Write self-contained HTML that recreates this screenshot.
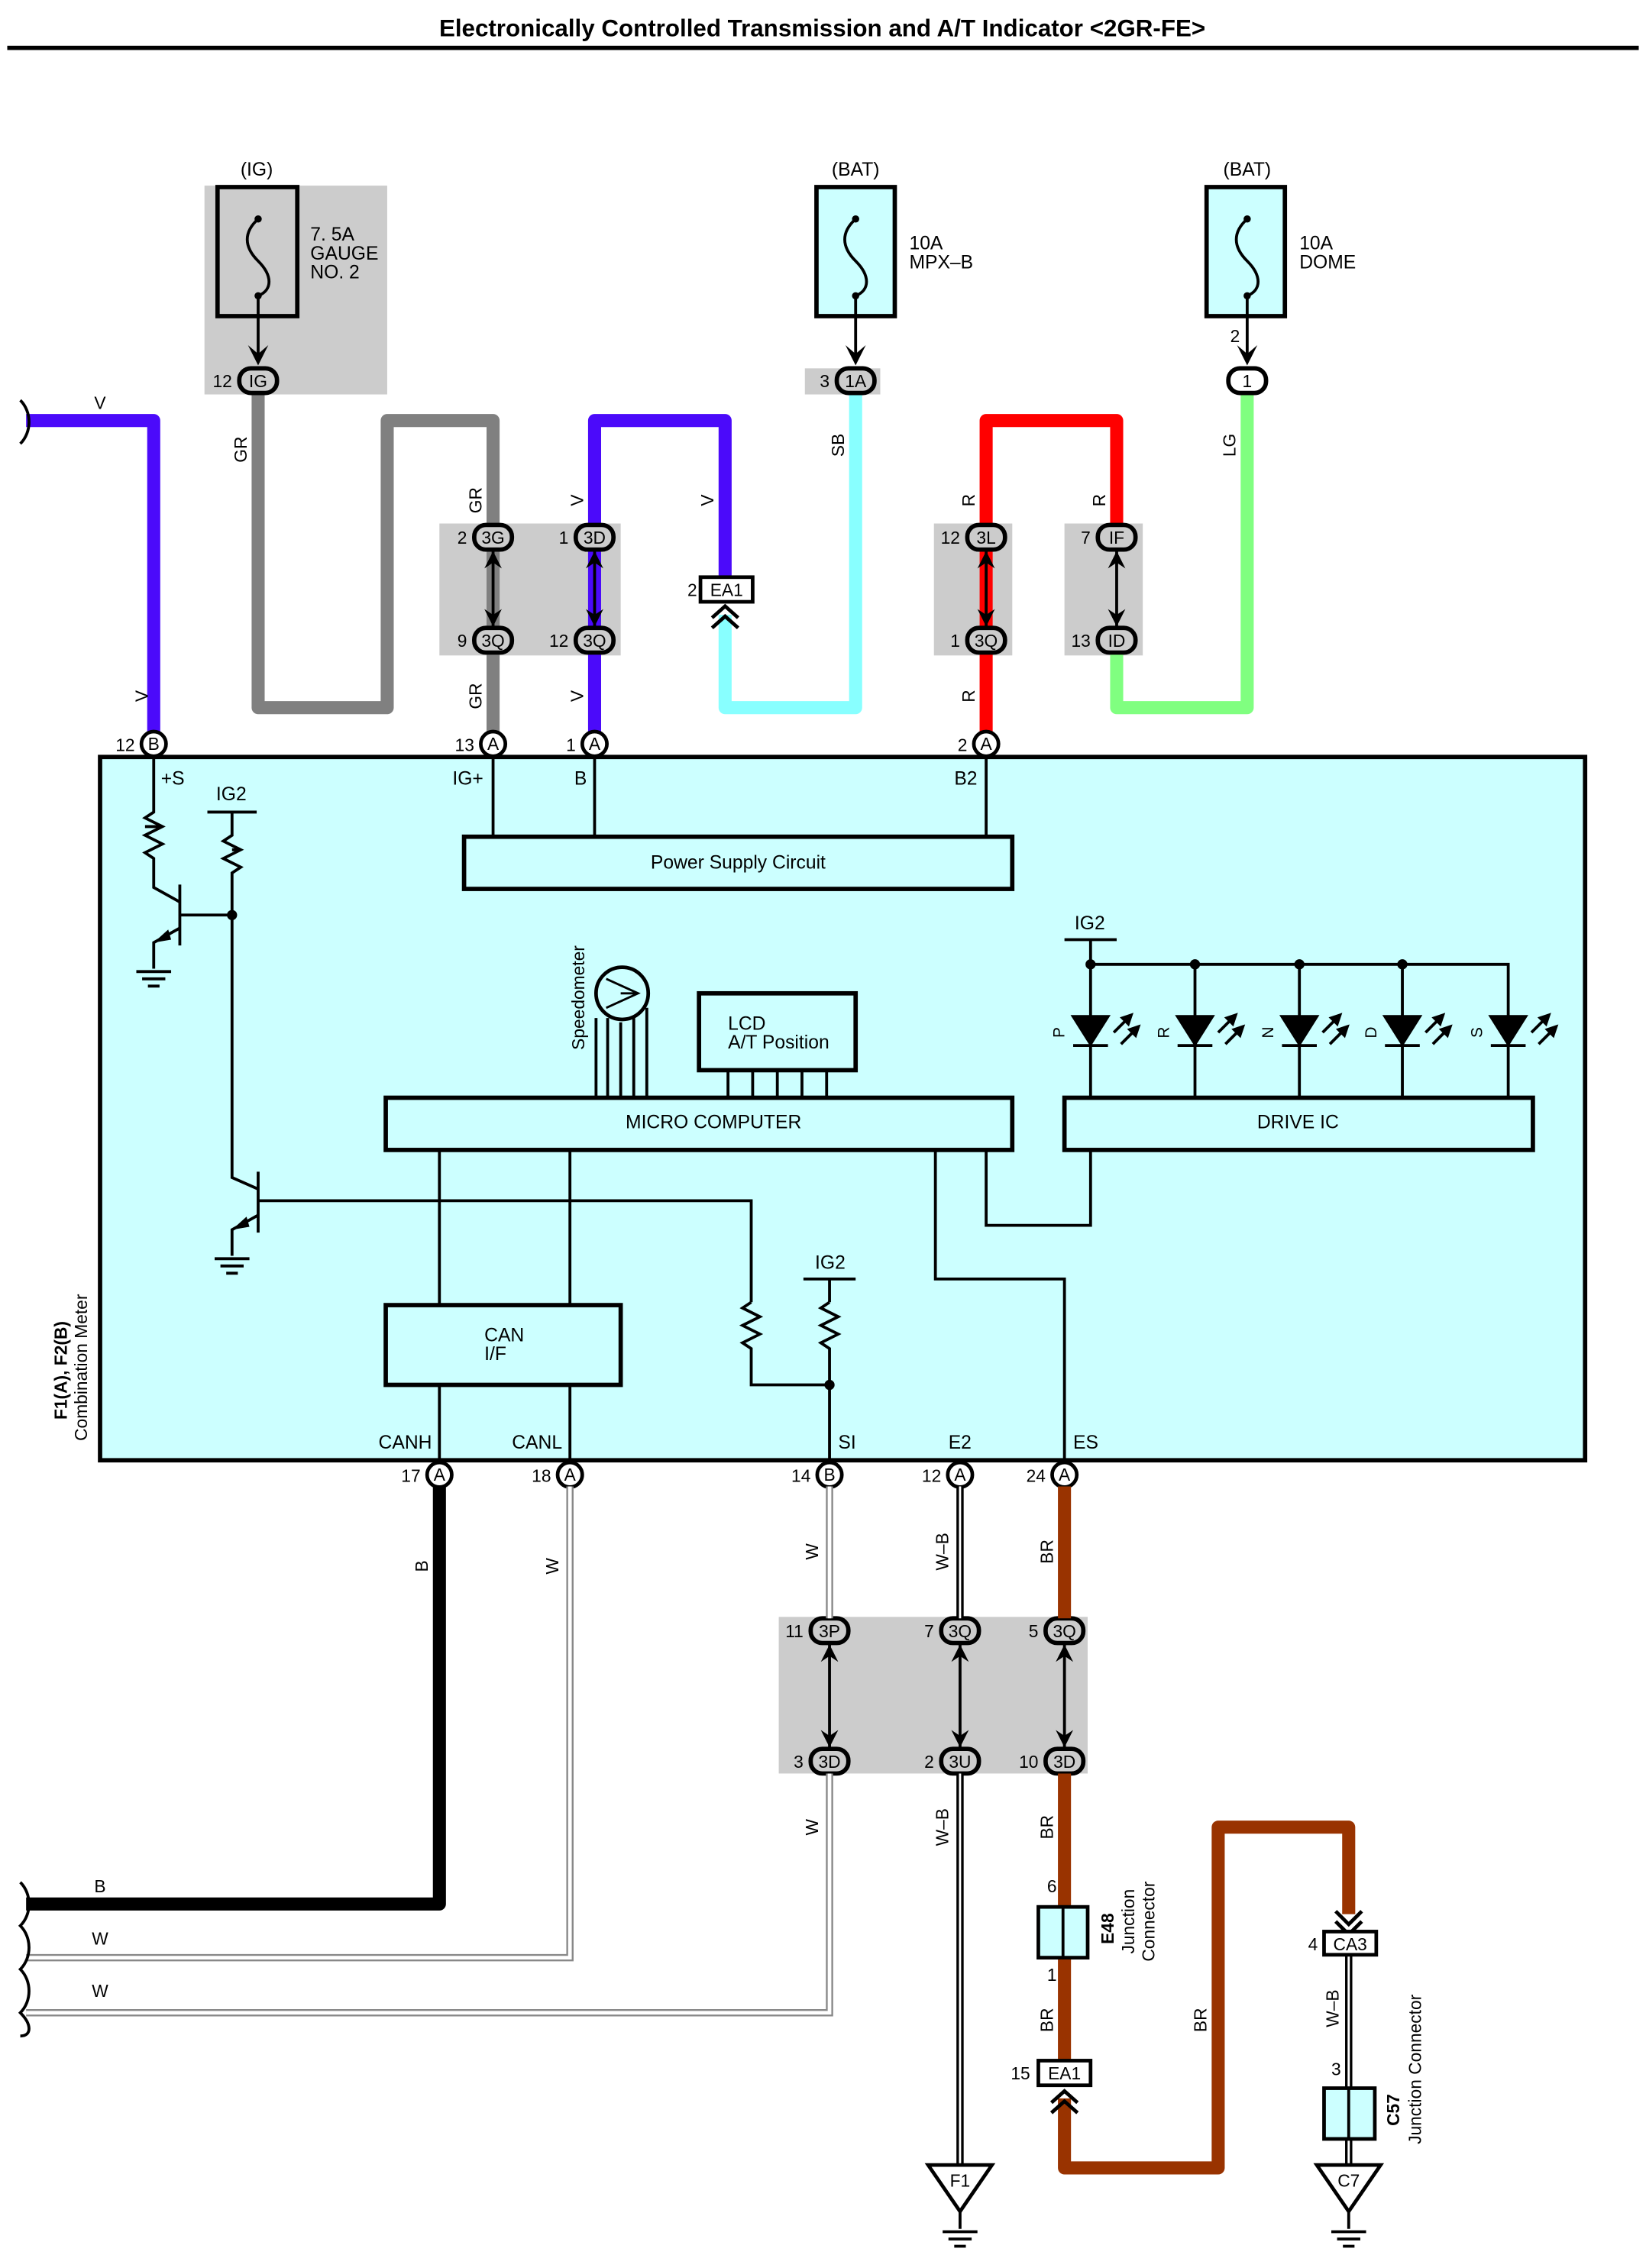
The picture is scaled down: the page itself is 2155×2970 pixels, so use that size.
<!DOCTYPE html>
<html><head><meta charset="utf-8"><style>html,body{margin:0;padding:0;background:#fff}svg{display:block}text{font-family:"Liberation Sans",sans-serif}</style></head><body>
<svg width="2155" height="2970" viewBox="0 0 1135 1564" preserveAspectRatio="none" xmlns="http://www.w3.org/2000/svg">
<rect width="1135" height="1564" fill="#fff"/>
<text x="567" y="25" font-size="16.5" font-weight="bold" text-anchor="middle">Electronically Controlled Transmission and A/T Indicator &lt;2GR-FE&gt;</text>
<line x1="5" y1="33" x2="1130" y2="33" stroke="#000" stroke-width="3"/>

<!-- gray blocks -->
<rect x="141" y="128" width="126" height="144" fill="#ccc"/>
<rect x="555" y="254" width="52" height="18" fill="#ccc"/>
<rect x="303" y="361" width="125" height="91" fill="#ccc"/>
<rect x="644" y="361" width="54" height="91" fill="#ccc"/>
<rect x="734" y="361" width="54" height="91" fill="#ccc"/>
<rect x="537" y="1115" width="213" height="108" fill="#ccc"/>

<!-- fuses -->
<g stroke="#000" stroke-width="3">
<rect x="150" y="129" width="55" height="89" fill="#ccc"/>
<rect x="563" y="129" width="54" height="89" fill="#ccffff"/>
<rect x="832" y="129" width="54" height="89" fill="#ccffff"/>
</g>
<g fill="none" stroke="#000" stroke-width="2">
<path d="M178 151 C168 160,168 170,178 180 C188 190,188 200,178 204"/>
<path d="M590 151 C580 160,580 170,590 180 C600 190,600 200,590 204"/>
<path d="M860 151 C850 160,850 170,860 180 C870 190,870 200,860 204"/>
<line x1="178" y1="204" x2="178" y2="248"/><line x1="590" y1="204" x2="590" y2="248"/><line x1="860" y1="204" x2="860" y2="248"/>
</g>
<g fill="#000"><circle cx="178" cy="151" r="2.5"/><circle cx="178" cy="204" r="2.5"/><circle cx="590" cy="151" r="2.5"/><circle cx="590" cy="204" r="2.5"/><circle cx="860" cy="151" r="2.5"/><circle cx="860" cy="204" r="2.5"/>
<path d="M171 238 L178 252 L185 238 L178 244Z"/><path d="M583 238 L590 252 L597 238 L590 244Z"/><path d="M853 238 L860 252 L867 238 L860 244Z"/></g>
<g font-size="13"><text x="177" y="121" text-anchor="middle">(IG)</text><text x="590" y="121" text-anchor="middle">(BAT)</text><text x="860" y="121" text-anchor="middle">(BAT)</text>
<text x="214" y="166">7. 5A</text><text x="214" y="179">GAUGE</text><text x="214" y="192">NO. 2</text>
<text x="627" y="172">10A</text><text x="627" y="185">MPX–B</text><text x="896" y="172">10A</text><text x="896" y="185">DOME</text></g>

<!-- main box -->
<rect x="69" y="522" width="1024" height="485" fill="#ccffff" stroke="#000" stroke-width="3"/>

<!-- wires top -->
<g fill="none" stroke-width="9" stroke-linejoin="round">
<path d="M18 290 H106 V508" stroke="#4b0afa"/>
<path d="M178 272 V488 H267 V290 H340 V508" stroke="#808080"/>
<path d="M410 508 V290 H500 V398" stroke="#4b0afa"/>
<path d="M500 424 V488 H590 V272" stroke="#88ffff"/>
<path d="M680 508 V290 H770 V370" stroke="#ff0000"/>
<path d="M770 441 V488 H860 V272" stroke="#80ff80"/>
</g>
<path d="M14 276 C22 284,22 298,14 306" fill="none" stroke="#000" stroke-width="2"/>
<g stroke="#000" stroke-width="2"><line x1="340" y1="380" x2="340" y2="432"/><line x1="410" y1="380" x2="410" y2="432"/><line x1="680" y1="380" x2="680" y2="432"/><line x1="770" y1="380" x2="770" y2="432"/>
<line x1="572" y1="1134" x2="572" y2="1205"/><line x1="662" y1="1134" x2="662" y2="1205"/><line x1="734" y1="1134" x2="734" y2="1205"/></g>
<g fill="#000">
<path d="M334 392 L340 380 L346 392 L340 388Z M334 420 L340 432 L346 420 L340 424Z"/>
<path d="M404 392 L410 380 L416 392 L410 388Z M404 420 L410 432 L416 420 L410 424Z"/>
<path d="M674 392 L680 380 L686 392 L680 388Z M674 420 L680 432 L686 420 L680 424Z"/>
<path d="M764 392 L770 380 L776 392 L770 388Z M764 420 L770 432 L776 420 L770 424Z"/>
<path d="M566 1146 L572 1134 L578 1146 L572 1142Z M566 1193 L572 1205 L578 1193 L572 1197Z"/>
<path d="M656 1146 L662 1134 L668 1146 L662 1142Z M656 1193 L662 1205 L668 1193 L662 1197Z"/>
<path d="M728 1146 L734 1134 L740 1146 L734 1142Z M728 1193 L734 1205 L740 1193 L734 1197Z"/>
</g>
<rect x="483" y="398" width="36" height="17" fill="#fff" stroke="#000" stroke-width="2.5"/>
<text x="501" y="411" font-size="12" text-anchor="middle">EA1</text><text x="474" y="411" font-size="12">2</text>
<path d="M491 426 L500 418 L509 426 M491 433 L500 425 L509 433" fill="none" stroke="#000" stroke-width="2.5"/>

<!-- connector ovals -->
<g stroke="#000" stroke-width="3" fill="#ccc">
<rect x="165" y="254" width="26" height="17" rx="8"/>
<rect x="577" y="254" width="26" height="17" rx="8"/>
<rect x="847" y="254" width="26" height="17" rx="8" fill="#fff"/>
<rect x="327" y="362" width="26" height="17" rx="8"/><rect x="327" y="433" width="26" height="17" rx="8"/>
<rect x="397" y="362" width="26" height="17" rx="8"/><rect x="397" y="433" width="26" height="17" rx="8"/>
<rect x="667" y="362" width="26" height="17" rx="8"/><rect x="667" y="433" width="26" height="17" rx="8"/>
<rect x="757" y="362" width="26" height="17" rx="8"/><rect x="757" y="433" width="26" height="17" rx="8"/>
<rect x="559" y="1116" width="26" height="17" rx="8"/><rect x="559" y="1206" width="26" height="17" rx="8"/>
<rect x="649" y="1116" width="26" height="17" rx="8"/><rect x="649" y="1206" width="26" height="17" rx="8"/>
<rect x="721" y="1116" width="26" height="17" rx="8"/><rect x="721" y="1206" width="26" height="17" rx="8"/>
</g>
<g font-size="12" text-anchor="middle">
<text x="178" y="267">IG</text><text x="590" y="267">1A</text><text x="860" y="267">1</text>
<text x="340" y="375">3G</text><text x="340" y="446">3Q</text><text x="410" y="375">3D</text><text x="410" y="446">3Q</text>
<text x="680" y="375">3L</text><text x="680" y="446">3Q</text><text x="770" y="375">IF</text><text x="770" y="446">ID</text>
<text x="572" y="1129">3P</text><text x="572" y="1219">3D</text><text x="662" y="1129">3Q</text><text x="662" y="1219">3U</text><text x="734" y="1129">3Q</text><text x="734" y="1219">3D</text>
</g>
<g font-size="12" text-anchor="end">
<text x="160" y="267">12</text><text x="572" y="267">3</text><text x="855" y="236">2</text>
<text x="322" y="375">2</text><text x="322" y="446">9</text><text x="392" y="375">1</text><text x="392" y="446">12</text>
<text x="662" y="375">12</text><text x="662" y="446">1</text><text x="752" y="375">7</text><text x="752" y="446">13</text>
<text x="554" y="1129">11</text><text x="554" y="1219">3</text><text x="644" y="1129">7</text><text x="644" y="1219">2</text><text x="716" y="1129">5</text><text x="716" y="1219">10</text>
</g>

<!-- pins -->
<g stroke="#000" stroke-width="2.5" fill="#fff">
<circle cx="106" cy="513" r="8.5"/><circle cx="340" cy="513" r="8.5"/><circle cx="410" cy="513" r="8.5"/><circle cx="680" cy="513" r="8.5"/>
<circle cx="303" cy="1017" r="8.5"/><circle cx="393" cy="1017" r="8.5"/><circle cx="572" cy="1017" r="8.5"/><circle cx="662" cy="1017" r="8.5"/><circle cx="734" cy="1017" r="8.5"/>
</g>
<g font-size="12" text-anchor="middle">
<text x="106" y="517">B</text><text x="340" y="517">A</text><text x="410" y="517">A</text><text x="680" y="517">A</text>
<text x="303" y="1021">A</text><text x="393" y="1021">A</text><text x="572" y="1021">B</text><text x="662" y="1021">A</text><text x="734" y="1021">A</text>
</g>
<g font-size="12" text-anchor="end">
<text x="93" y="518">12</text><text x="327" y="518">13</text><text x="397" y="518">1</text><text x="667" y="518">2</text>
<text x="290" y="1022">17</text><text x="380" y="1022">18</text><text x="559" y="1022">14</text><text x="649" y="1022">12</text><text x="721" y="1022">24</text>
</g>

<g font-size="12">
<text x="69" y="282" text-anchor="middle">V</text>
<text transform="translate(170,310) rotate(-90)" text-anchor="middle">GR</text>
<text transform="translate(332,345) rotate(-90)" text-anchor="middle">GR</text>
<text transform="translate(332,480) rotate(-90)" text-anchor="middle">GR</text>
<text transform="translate(102,480) rotate(-90)" text-anchor="middle">V</text>
<text transform="translate(402,345) rotate(-90)" text-anchor="middle">V</text>
<text transform="translate(402,480) rotate(-90)" text-anchor="middle">V</text>
<text transform="translate(492,345) rotate(-90)" text-anchor="middle">V</text>
<text transform="translate(582,307) rotate(-90)" text-anchor="middle">SB</text>
<text transform="translate(672,345) rotate(-90)" text-anchor="middle">R</text>
<text transform="translate(762,345) rotate(-90)" text-anchor="middle">R</text>
<text transform="translate(672,480) rotate(-90)" text-anchor="middle">R</text>
<text transform="translate(852,307) rotate(-90)" text-anchor="middle">LG</text>
<text transform="translate(295,1080) rotate(-90)" text-anchor="middle">B</text>
<text transform="translate(385,1080) rotate(-90)" text-anchor="middle">W</text>
<text transform="translate(564,1070) rotate(-90)" text-anchor="middle">W</text>
<text transform="translate(654,1070) rotate(-90)" text-anchor="middle">W–B</text>
<text transform="translate(726,1070) rotate(-90)" text-anchor="middle">BR</text>
<text transform="translate(564,1260) rotate(-90)" text-anchor="middle">W</text>
<text transform="translate(654,1260) rotate(-90)" text-anchor="middle">W–B</text>
<text transform="translate(726,1260) rotate(-90)" text-anchor="middle">BR</text>
<text transform="translate(726,1393) rotate(-90)" text-anchor="middle">BR</text>
<text transform="translate(832,1393) rotate(-90)" text-anchor="middle">BR</text>
<text transform="translate(923,1385) rotate(-90)" text-anchor="middle">W–B</text>
<text x="69" y="1305" text-anchor="middle">B</text><text x="69" y="1341" text-anchor="middle">W</text><text x="69" y="1377" text-anchor="middle">W</text>
</g>

<!-- internal wiring -->
<g fill="none" stroke="#000" stroke-width="2">
<path d="M340 522 V577 M410 522 V577 M680 522 V577"/>
<path d="M303 793 V900 M303 955 V1007 M393 793 V900 M393 955 V1007"/>
<path d="M680 793 V845 H752 V793"/><path d="M645 793 V882 H734 V1007"/>
<path d="M178 828 H518 V898 M518 940 V955 H572 V1007"/><path d="M572 882 V898 M572 940 V955"/>
<path d="M554 882 H590"/>
<path d="M106 522 V560 l-6 4 l12 6 l-6 0 l-6 0 M106 560 l-6 4 l12 6 l-12 6 l12 6 l-12 6 l6 4 V612 L124 622"/>
<path d="M124 610 V652 M124 631 H160"/>
<path d="M124 640 L106 650 V668 M94 670 H118 M98 675 H114 M102 680 H110"/>
<path d="M160 560 V576 l-6 4 l12 6 l-6 0 M160 576 l-6 4 l12 6 l-12 6 l12 6 l-6 4 V812 L178 820 M143 560 H177"/>
<path d="M178 808 V850"/>
<path d="M178 838 L160 848 V866 M148 868 H172 M152 873 H168 M156 878 H164"/>
<path d="M518 898 l-6 4 l12 6 l-12 6 l12 6 l-12 6 l6 4 V940"/>
<path d="M572 898 l-6 4 l12 6 l-12 6 l12 6 l-12 6 l6 4 V940"/>
<path d="M734 648 H770 M752 648 V757 M752 665 H1040 V757 M824 665 V757 M896 665 V757 M967 665 V757"/>
<path d="M411 702 V757 M419 702 V757 M428 705 V757 M437 702 V757 M446 695 V757"/>
<path d="M502 738 V757 M519 738 V757 M536 738 V757 M553 738 V757 M570 738 V757"/>
</g>
<g fill="#000"><circle cx="160" cy="631" r="3.5"/><circle cx="752" cy="665" r="3.5"/><circle cx="824" cy="665" r="3.5"/><circle cx="896" cy="665" r="3.5"/><circle cx="967" cy="665" r="3.5"/><circle cx="572" cy="955" r="3.5"/>
<path d="M106 650 L116 641 L118 648Z"/><path d="M160 848 L170 839 L172 846Z"/></g>
<circle cx="429" cy="685" r="18" fill="#ccffff" stroke="#000" stroke-width="2.5"/>
<path d="M418 675 L440 685 L418 695 M428 685 H440" fill="none" stroke="#000" stroke-width="1.5"/>
<text transform="translate(403,688) rotate(-90)" font-size="12" text-anchor="middle">Speedometer</text>
<g stroke="#000" stroke-width="3" fill="#ccffff">
<rect x="320" y="577" width="378" height="36"/><rect x="266" y="757" width="432" height="36"/><rect x="734" y="757" width="323" height="36"/>
<rect x="266" y="900" width="162" height="55"/><rect x="482" y="685" width="108" height="53"/>
</g>
<g font-size="13">
<text x="509" y="599" text-anchor="middle">Power Supply Circuit</text>
<text x="492" y="778" text-anchor="middle">MICRO COMPUTER</text>
<text x="895" y="778" text-anchor="middle">DRIVE IC</text>
<text x="334" y="925">CAN</text><text x="334" y="938">I/F</text>
<text x="502" y="710">LCD</text><text x="502" y="723">A/T Position</text>
<text x="111" y="541">+S</text><text x="149" y="552">IG2</text><text x="741" y="641">IG2</text><text x="562" y="875">IG2</text>
<text x="312" y="541">IG+</text><text x="396" y="541">B</text><text x="658" y="541">B2</text>
<text x="261" y="999">CANH</text><text x="353" y="999">CANL</text><text x="578" y="999">SI</text><text x="654" y="999">E2</text><text x="740" y="999">ES</text>
</g>
<text transform="translate(46,945) rotate(-90)" font-size="12" font-weight="bold" text-anchor="middle">F1(A), F2(B)</text>
<text transform="translate(60,943) rotate(-90)" font-size="12" text-anchor="middle">Combination Meter</text>
<g fill="#000" stroke="#000" stroke-width="2">
<g id="led"><path d="M740 701 H764 L752 720Z"/><line x1="740" y1="721" x2="764" y2="721"/>
<path d="M768 712 L778 702 M773 720 L783 710" fill="none"/><path d="M780 700 L774 702 L778 706Z M785 708 L779 710 L783 714Z"/></g>
<use href="#led" x="72"/><use href="#led" x="144"/><use href="#led" x="215"/><use href="#led" x="288"/>
</g>
<g font-size="11"><text transform="translate(734,712) rotate(-90)" text-anchor="middle">P</text><text transform="translate(806,712) rotate(-90)" text-anchor="middle">R</text><text transform="translate(878,712) rotate(-90)" text-anchor="middle">N</text><text transform="translate(949,712) rotate(-90)" text-anchor="middle">D</text><text transform="translate(1022,712) rotate(-90)" text-anchor="middle">S</text></g>

<!-- bottom wires -->
<path d="M303 1025 V1313 H18" fill="none" stroke="#000" stroke-width="9" stroke-linejoin="round"/>
<g fill="none" stroke="#888" stroke-width="5"><path d="M393 1025 V1350 H18"/><path d="M572 1025 V1116 M572 1223 V1388 H18"/></g>
<g fill="none" stroke="#fff" stroke-width="2.5"><path d="M393 1025 V1350 H18"/><path d="M572 1025 V1116 M572 1223 V1388 H18"/></g>
<g fill="none" stroke="#000" stroke-width="5"><path d="M662 1025 V1116 M662 1223 V1495"/><path d="M930 1348 V1440 M930 1475 V1492"/></g>
<g fill="none" stroke="#fff" stroke-width="1.5"><path d="M662 1025 V1116 M662 1223 V1495"/><path d="M930 1348 V1440 M930 1475 V1492"/></g>
<g fill="none" stroke="#993300" stroke-width="9" stroke-linejoin="round">
<path d="M734 1025 V1116 M734 1223 V1315 M734 1350 V1421"/>
<path d="M734 1447 V1495 H840 V1260 H930 V1320"/>
</g>
<g fill="none" stroke="#000" stroke-width="2"><path d="M14 1298 C22 1306,22 1320,14 1328 C22 1336,22 1350,14 1358 C22 1366,22 1380,14 1388 C22 1396,22 1404,14 1404"/></g>
<rect x="716" y="1315" width="34" height="35" fill="#ccffff" stroke="#000" stroke-width="2.5"/><line x1="733" y1="1315" x2="733" y2="1350" stroke="#000" stroke-width="2"/>
<text x="722" y="1305" font-size="12">6</text><text x="722" y="1366" font-size="12">1</text>
<text transform="translate(768,1330) rotate(-90)" font-size="12" font-weight="bold" text-anchor="middle">E48</text>
<text transform="translate(782,1325) rotate(-90)" font-size="12" text-anchor="middle">Junction</text>
<text transform="translate(796,1325) rotate(-90)" font-size="12" text-anchor="middle">Connector</text>
<rect x="716" y="1421" width="36" height="17" fill="#fff" stroke="#000" stroke-width="2.5"/>
<text x="734" y="1434" font-size="12" text-anchor="middle">EA1</text><text x="697" y="1434" font-size="12">15</text>
<path d="M725 1450 L734 1442 L743 1450 M725 1457 L734 1449 L743 1457" fill="none" stroke="#000" stroke-width="2.5"/>
<path d="M921 1318 L930 1327 L939 1318 M921 1325 L930 1334 L939 1325" fill="none" stroke="#000" stroke-width="2.5"/>
<rect x="913" y="1332" width="36" height="16" fill="#fff" stroke="#000" stroke-width="2.5"/>
<text x="931" y="1345" font-size="12" text-anchor="middle">CA3</text><text x="902" y="1345" font-size="12">4</text><text x="918" y="1431" font-size="12">3</text>
<rect x="913" y="1440" width="35" height="35" fill="#ccffff" stroke="#000" stroke-width="2.5"/><line x1="930" y1="1440" x2="930" y2="1475" stroke="#000" stroke-width="2"/>
<text transform="translate(965,1455) rotate(-90)" font-size="12" font-weight="bold" text-anchor="middle">C57</text>
<text transform="translate(980,1427) rotate(-90)" font-size="12" text-anchor="middle">Junction Connector</text>
<g fill="#fff" stroke="#000" stroke-width="2.5">
<path d="M640 1493 H684 L662 1525Z"/><path d="M908 1493 H952 L930 1525Z"/>
</g>
<g stroke="#000" stroke-width="2"><path d="M662 1525 V1537 M650 1539 H674 M654 1544 H670 M658 1549 H666"/><path d="M930 1525 V1537 M918 1539 H942 M922 1544 H938 M926 1549 H934"/></g>
<text x="662" y="1508" font-size="12" text-anchor="middle">F1</text><text x="930" y="1508" font-size="12" text-anchor="middle">C7</text>
</svg>
</body></html>
